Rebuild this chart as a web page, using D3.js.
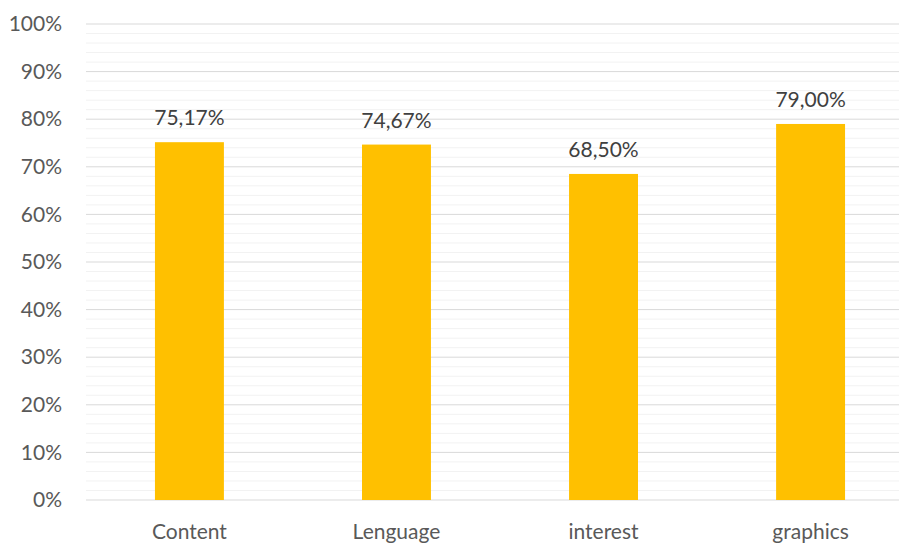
<!DOCTYPE html>
<html>
<head>
<meta charset="utf-8">
<script src="https://cdn.jsdelivr.net/npm/d3@7"></script>
<style>
  body{margin:0;background:#fff;}
  svg{display:block;font-family:Lato,"Open Sans",sans-serif;}
</style>
</head>
<body>
<svg id="chart" width="899" height="543"></svg>
<script>
const categories=["Content","Lenguage","interest","graphics"];
const values=[75.17,74.67,68.50,79.00];
const majorTicks=[0,10,20,30,40,50,60,70,80,90,100];
const minorTicks=d3.range(0,101,2).filter(v=>v%10!==0);

const svg=d3.select("#chart");
const m={top:24,right:-15,bottom:43,left:86};
const w=899,h=543;

const x=d3.scaleBand().domain(categories).range([m.left,w-m.right])
  .paddingInner(0.667).paddingOuter(0.333);
const y=d3.scaleLinear().domain([0,100]).range([h-m.bottom,m.top]);

svg.append("g").selectAll("line").data(minorTicks).enter().append("line")
  .attr("x1",m.left).attr("x2",w-m.right)
  .attr("y1",d=>y(d)).attr("y2",d=>y(d))
  .attr("stroke","#f2f2f2").attr("stroke-width",1);

svg.append("g").selectAll("line").data(majorTicks).enter().append("line")
  .attr("x1",m.left).attr("x2",w-m.right)
  .attr("y1",d=>y(d)).attr("y2",d=>y(d))
  .attr("stroke","#d9d9d9").attr("stroke-width",1);

const yAxis=svg.append("g").attr("transform",`translate(${m.left-24},0)`)
  .call(d3.axisLeft(y).tickValues(majorTicks).tickSize(0).tickPadding(0).tickFormat(d=>d+"%"));
yAxis.select(".domain").remove();
yAxis.selectAll("text").attr("font-size","21px").attr("fill","#595959")
  .attr("font-family","Lato,'Open Sans',sans-serif");

svg.selectAll(".bar").data(categories).enter().append("rect")
  .attr("class","bar")
  .attr("x",d=>x(d))
  .attr("y",(d,i)=>y(values[i]))
  .attr("width",x.bandwidth())
  .attr("height",(d,i)=>y(0)-y(values[i]))
  .attr("fill","#ffc000");

svg.selectAll(".val").data(categories).enter().append("text")
  .attr("class","val")
  .attr("x",d=>x(d)+x.bandwidth()/2)
  .attr("y",(d,i)=>y(values[i])-17)
  .attr("text-anchor","middle")
  .attr("font-size","21px").attr("fill","#404040")
  .text((d,i)=>values[i].toFixed(2).replace(".",",")+"%");

const xAxis=svg.append("g").attr("transform",`translate(0,${h-m.bottom})`)
  .call(d3.axisBottom(x).tickSize(0).tickPadding(24));
xAxis.select(".domain").remove();
xAxis.selectAll("text").attr("font-size","21px").attr("fill","#595959")
  .attr("font-family","Lato,'Open Sans',sans-serif");
</script>
</body>
</html>
